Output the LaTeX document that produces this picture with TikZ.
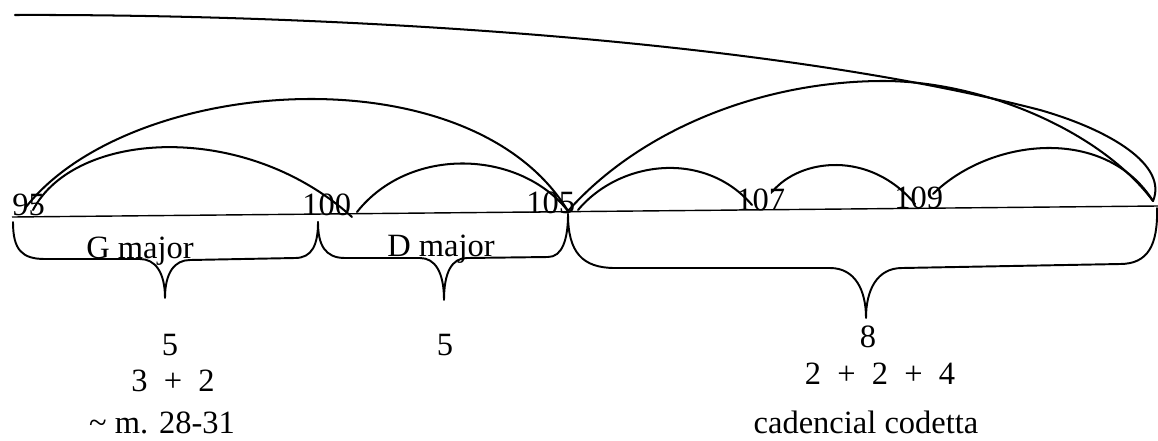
\documentclass[tikz,border=0pt]{standalone}
\usepackage{fontspec}
\setmainfont{Liberation Serif}
\usetikzlibrary{positioning}
\tikzset{
	slurline/.style ={line width=1.15pt, line cap=round},
	bracepath/.style={line width=1.1pt, line join=round, line cap=round},
	barnum/.style   ={inner sep=0pt, anchor=base west, font=\fontsize{18.5}{20}\selectfont},
	keyname/.style  ={inner sep=0pt, anchor=base, font=\fontsize{18.5}{20}\selectfont},
	phraselab/.style={inner sep=0pt, font=\fontsize{18.5}{20}\selectfont},
}

\begin{document}
\begin{tikzpicture}[x=0.02cm, y=-0.02cm]
	\useasboundingbox (0,0) rectangle (1158,440);
	% bar line and bar numbers
	\coordinate (lineL) at (12,217);
	\coordinate (lineR) at (1158,206);
	\draw[line width=0.8pt] (lineL) -- (lineR);
	\node[barnum] (n95)  at (12,215)  {95};
	\node[barnum] (n100) at (302,215) {100};
	\node[barnum] (n105) at (526,213) {105};
	\node[barnum] (n107) at (736,210) {107};
	\node[barnum] (n109) at (894,208) {109};
	% slur end points
	\coordinate (ptop)  at (15,15);
	\coordinate (p95a)  at (26,207);
	\coordinate (p95b)  at (33,210);
	\coordinate (p100a) at (352,217);
	\coordinate (p100b) at (357,212);
	\coordinate (p105)  at (568,211);
	\coordinate (p105b) at (578,210);
	\coordinate (p107a) at (752,205);
	\coordinate (p107b) at (772,192);
	\coordinate (p109a) at (915,204);
	\coordinate (p109b) at (933,194);
	\coordinate (pend)  at (1153,201);
	% slurs
	\draw[slurline] (ptop) .. controls (300,14) and (750,35) .. (1040,110)
		.. controls (1110,130) and (1168,165) .. (pend);
	\draw[slurline] (p95a) .. controls (130,75) and (470,50) .. (p105);
	\draw[slurline] (p95b) .. controls (75,130) and (245,120) .. (p100a);
	\draw[slurline] (p100b) .. controls (410,145) and (520,150) .. (p105);
	\draw[slurline] (p105) .. controls (640,130) and (760,82) .. (880,81)
		.. controls (980,80) and (1100,130) .. (pend);
	\draw[slurline] (p105b) .. controls (620,160) and (705,150) .. (p107a);
	\draw[slurline] (p107b) .. controls (800,158) and (870,150) .. (p109a);
	\draw[slurline] (p109b) .. controls (990,138) and (1105,125) .. (pend);
	% braces
	\draw[bracepath] (13,222) .. controls (13,250) and (22,259) .. (45,259) -- (140,259)
		.. controls (155,259) and (165,272) .. (165,298)
		.. controls (165,272) and (175,260) .. (190,260) -- (295,258)
		.. controls (312,258) and (318,245) .. (318,222);
	\draw[bracepath] (318,222) .. controls (318,245) and (325,258) .. (345,258) -- (420,258)
		.. controls (435,258) and (444,272) .. (444,300)
		.. controls (444,272) and (452,258) .. (467,258) -- (548,257)
		.. controls (562,257) and (568,240) .. (568,214);
	\draw[bracepath] (568,214) .. controls (568,252) and (582,268) .. (615,268) -- (830,268)
		.. controls (855,268) and (866,290) .. (866,318)
		.. controls (866,290) and (877,268) .. (902,268) -- (1120,264)
		.. controls (1148,264) and (1158,245) .. (1157,208);
	% keys
	\node[keyname] (kG) at (140,258) {G major};
	\node[keyname] (kD) at (441,256) {D major};
	% phrase lengths
	\node[phraselab] (s1) at (170,345) {5};
	\node[phraselab] (s2) at (445,345) {5};
	\node[phraselab] (s3) at (868,337) {8};
	\node[phraselab] (d1) at (173,381) {3\enspace+\enspace2};
	\node[phraselab] (d3) at (880,374) {2\enspace+\enspace2\enspace+\enspace4};
	\node[phraselab] (c1) at (162,423) {\textasciitilde\ m. 28-31};
	\node[phraselab] (c3) at (866,422) {cadencial codetta};
\end{tikzpicture}
\end{document}
